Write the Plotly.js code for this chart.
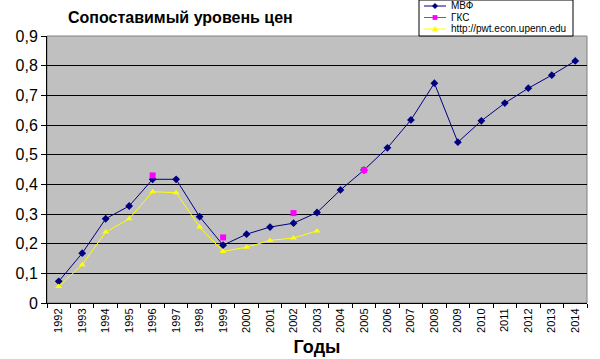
<!DOCTYPE html>
<html>
<head>
<meta charset="utf-8">
<script src="https://cdn.plot.ly/plotly-3.0.1.min.js"></script>
<style>html,body{margin:0;padding:0;background:#fff;}#chart{width:600px;height:359px;}</style>
</head>
<body>
<div id="chart"></div>
<script>
const years = ['1992','1993','1994','1995','1996','1997','1998','1999','2000','2001','2002','2003','2004','2005','2006','2007','2008','2009','2010','2011','2012','2013','2014'];
const imf = [0.073,0.168,0.284,0.327,0.417,0.417,0.291,0.195,0.232,0.256,0.269,0.305,0.381,0.448,0.523,0.617,0.741,0.542,0.614,0.674,0.724,0.768,0.816];
const gks = [null,null,null,null,0.430,null,null,0.221,null,null,0.303,null,null,0.448,null,null,null,null,null,null,null,null,null];
const pwt = [0.056,0.129,0.239,0.284,0.375,0.372,0.256,0.174,0.188,0.211,0.219,0.243,null,null,null,null,null,null,null,null,null,null,null];
const names = ['МВФ','ГКС','http://pwt.econ.upenn.edu'];
const colors = ['#000080','#ff00ff','#ffff00'];
const symbols = ['diamond','square','triangle-up'];

const W = 600, H = 359;
const M = {l: 47, r: 13, t: 36, b: 56};
const pw = W - M.l - M.r, ph = H - M.t - M.b;
const px = v => (v - M.l) / pw;
const py = v => (H - M.b - v) / ph;

const series = [imf, gks, pwt];
const traces = series.map((s, i) => ({
  x: years, y: s, name: names[i], type: 'scatter', mode: 'lines+markers', connectgaps: false,
  line: {color: colors[i], width: 1}, marker: {symbol: symbols[i], size: 6, color: colors[i]},
  showlegend: false
}));

// custom compact legend (Excel-style)
const lg = {x0: 419, y0: 0, x1: 573, y1: 36, rowY: [6, 17.5, 29], lineX0: 424, lineX1: 446, textX: 449};
const shapes = [
  {type: 'rect', xref: 'paper', yref: 'paper', x0: 0, x1: 1, y0: 0, y1: 1, line: {color: '#808080', width: 1}, layer: 'below'},
  {type: 'rect', xref: 'paper', yref: 'paper', x0: px(lg.x0), x1: px(lg.x1), y0: py(lg.y0), y1: py(lg.y1),
   fillcolor: '#fff', line: {color: '#000', width: 1}}
];
const annotations = [];
function markerPath(sym, cx, cy, r) {
  const P = (a, b) => px(a) + ',' + py(b);
  if (sym === 'diamond') return 'M' + P(cx, cy - r) + 'L' + P(cx + r, cy) + 'L' + P(cx, cy + r) + 'L' + P(cx - r, cy) + 'Z';
  if (sym === 'square') return 'M' + P(cx - r*0.8, cy - r*0.8) + 'L' + P(cx + r*0.8, cy - r*0.8) + 'L' + P(cx + r*0.8, cy + r*0.8) + 'L' + P(cx - r*0.8, cy + r*0.8) + 'Z';
  return 'M' + P(cx, cy - r) + 'L' + P(cx + r, cy + r*0.8) + 'L' + P(cx - r, cy + r*0.8) + 'Z';
}
names.forEach((n, i) => {
  const yy = lg.rowY[i];
  shapes.push({type: 'line', xref: 'paper', yref: 'paper', x0: px(lg.lineX0), x1: px(lg.lineX1), y0: py(yy), y1: py(yy),
               line: {color: colors[i], width: 1}});
  shapes.push({type: 'path', xref: 'paper', yref: 'paper', path: markerPath(symbols[i], (lg.lineX0 + lg.lineX1) / 2, yy, 3),
               fillcolor: colors[i], line: {color: colors[i], width: 0}});
  annotations.push({text: n, xref: 'paper', yref: 'paper', x: px(lg.textX), y: py(yy), xanchor: 'left', yanchor: 'middle',
                    showarrow: false, font: {size: 10, color: '#000'}});
});

const layout = {
  width: W, height: H,
  margin: M,
  paper_bgcolor: '#ffffff',
  plot_bgcolor: '#c0c0c0',
  separators: ', ',
  font: {family: 'Arial, Liberation Sans, sans-serif', color: '#000'},
  title: {text: '<b>Сопоставимый уровень цен</b>', x: 68/600, xanchor: 'left', y: 1 - 17/359, yanchor: 'middle', yref: 'container',
          font: {size: 16, color: '#000', family: 'Arial, Liberation Sans, sans-serif'}},
  xaxis: {type: 'category', range: [-0.5, 22.5], tickson: 'boundaries', ticks: 'outside', ticklen: 4,
          tickcolor: '#000', tickangle: -90, tickfont: {size: 11}, showgrid: false, showline: true,
          linecolor: '#000', linewidth: 1, zeroline: false, automargin: false,
          title: {text: '<b>Годы</b>', font: {size: 18}, standoff: 8}},
  yaxis: {range: [0, 0.9], dtick: 0.1, tick0: 0, ticks: 'outside', ticklen: 5, tickcolor: '#000',
          tickfont: {size: 16}, showgrid: true, gridcolor: '#000', gridwidth: 1, showline: true,
          linecolor: '#000', linewidth: 1, zeroline: false, automargin: false},
  showlegend: false,
  shapes: shapes,
  annotations: annotations
};

Plotly.newPlot('chart', traces, layout, {displayModeBar: false, staticPlot: true});
</script>
</body>
</html>
